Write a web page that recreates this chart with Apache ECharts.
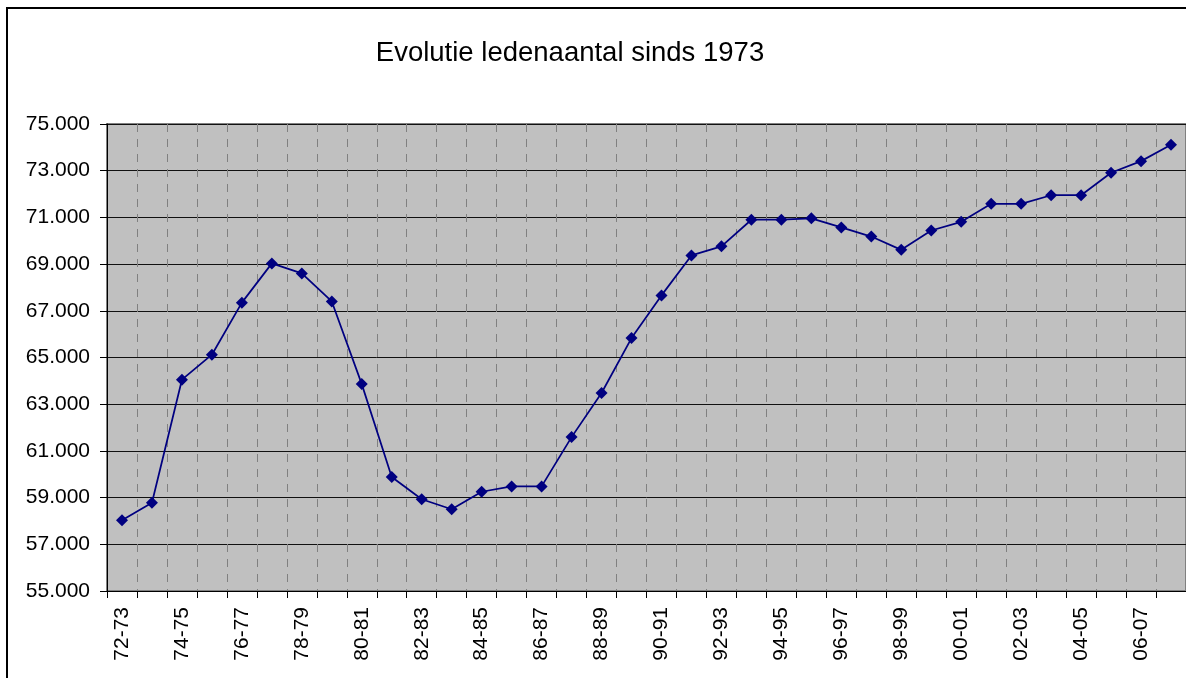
<!DOCTYPE html>
<html>
<head>
<meta charset="utf-8">
<script src="https://cdn.jsdelivr.net/npm/echarts@6/dist/echarts.min.js"></script>
<style>
html,body{margin:0;padding:0;background:#fff;}
#chart{width:1186px;height:678px;}
</style>
</head>
<body>
<div id="chart"></div>
<script>
const categories = ['72-73','73-74','74-75','75-76','76-77','77-78','78-79','79-80','80-81','81-82',
  '82-83','83-84','84-85','85-86','86-87','87-88','88-89','89-90','90-91','91-92',
  '92-93','93-94','94-95','95-96','96-97','97-98','98-99','99-00','00-01','01-02',
  '02-03','03-04','04-05','05-06','06-07','07-08'];
const members = [58030,58780,64050,65120,67350,69030,68600,67400,63860,59880,
  58930,58500,59250,59480,59480,61590,63480,65830,67660,69370,
  69760,70900,70900,70960,70570,70180,69610,70440,70810,71580,
  71580,71950,71950,72910,73410,74110];
const titleText = 'Evolutie ledenaantal sinds 1973';
const yMin = 55000, yMax = 75000, yStep = 2000;

const font = "'Liberation Sans', Arial, sans-serif";
const chart = echarts.init(document.getElementById('chart'), null, {renderer:'canvas'});
chart.setOption({
  animation: false,
  backgroundColor: '#ffffff',
  title: {
    text: titleText,
    left: 565, top: 34, textAlign: 'center',
    textStyle: {fontFamily: font, fontSize: 27.5, fontWeight: 'normal', color: '#000'}
  },
  graphic: [{
    type: 'rect', z: 100,
    shape: {x: 7, y: 8, width: 1200, height: 700},
    style: {fill: 'none', stroke: '#000', lineWidth: 2}
  }],
  grid: {
    left: 107, top: 124, width: 1080, height: 467,
    show: true, backgroundColor: '#C0C0C0', borderColor: '#808080', borderWidth: 2,
    containLabel: false
  },
  xAxis: {
    type: 'category', data: categories, boundaryGap: true,
    axisLine: {show: true, lineStyle: {color: '#000', width: 1}},
    axisTick: {show: true, interval: 0, length: 7, lineStyle: {color: '#000'}},
    axisLabel: {interval: 1, rotate: 90, margin: 16, fontFamily: font, fontSize: 21, color: '#000'},
    splitLine: {show: true, interval: 0, lineStyle: {color: '#808080', type: [8, 7], width: 1}}
  },
  yAxis: {
    type: 'value', min: yMin, max: yMax, interval: yStep,
    axisLine: {show: true, lineStyle: {color: '#000', width: 1}},
    axisTick: {show: true, length: 7, lineStyle: {color: '#000'}},
    axisLabel: {margin: 17, fontFamily: font, fontSize: 21, color: '#000',
      formatter: v => String(v).replace(/\B(?=(\d{3})+(?!\d))/g, '.')},
    splitLine: {show: true, lineStyle: {color: '#111', width: 1}}
  },
  series: [{
    type: 'line', data: members,
    symbol: 'diamond', symbolSize: 12,
    lineStyle: {color: '#000080', width: 1.75},
    itemStyle: {color: '#000080'}
  }]
});
</script>
</body>
</html>
